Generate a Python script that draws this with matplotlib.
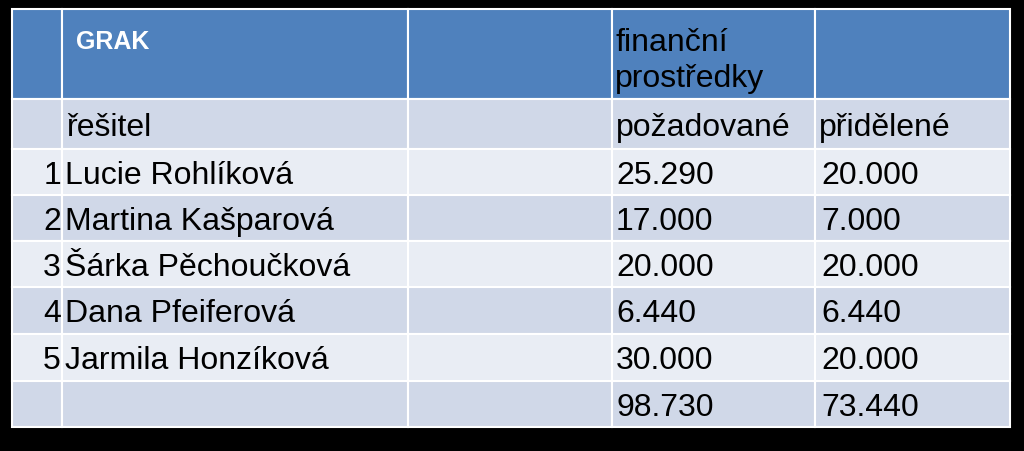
import matplotlib.pyplot as plt
from matplotlib.patches import Rectangle

numbers = ["1", "2", "3", "4", "5", ""]
names = ["Lucie Rohlíková", "Martina Kašparová", "Šárka Pěchoučková", "Dana Pfeiferová", "Jarmila Honzíková", ""]
pozadovane = ["25.290", "17.000", "20.000", "6.440", "30.000", "98.730"]
pridelene = ["20.000", "7.000", "20.000", "6.440", "20.000", "73.440"]
header = ["", "GRAK", "", "finanční\nprostředky", ""]
subheader = ["", "řešitel", "", "požadované", "přidělené"]

W, H = 1024, 452
fig = plt.figure(figsize=(W/100, H/100), dpi=100)
fig.patch.set_facecolor("black")
ax = fig.add_axes([0, 0, 1, 1])
ax.set_xlim(0, W); ax.set_ylim(H, 0); ax.axis("off")
ax.set_facecolor("black")

cols = [12, 62, 408, 612, 815, 1010]
rows = [10, 100, 150, 196, 242, 288, 335, 382, 428]
fam = "Liberation Sans"
fs = 23

def cell_bg(r, color):
    for c in range(5):
        ax.add_patch(Rectangle((cols[c], rows[r]), cols[c+1]-cols[c], rows[r+1]-rows[r],
                               facecolor=color, edgecolor="white", linewidth=1.5))

cell_bg(0, "#4F81BD")
for r in range(1, 8):
    cell_bg(r, "#D0D8E8" if r % 2 == 1 else "#E9EDF4")

ax.text(cols[1]+14, rows[0]+32, header[1], color="white", fontsize=18, fontweight="bold", family=fam, va="center")
ax.text(cols[3]+3, rows[0]+51, header[3], color="black", fontsize=fs, family=fam, va="center", linespacing=1.3)
for c, t in enumerate(subheader):
    if t:
        ax.text(cols[c]+4, (rows[1]+rows[2])/2 + 3, t, fontsize=fs, family=fam, va="center")
for i in range(6):
    y = (rows[i+2]+rows[i+3])/2 + 3
    ax.text(cols[1]-1, y, numbers[i], fontsize=fs, family=fam, va="center", ha="right")
    ax.text(cols[1]+3, y, names[i], fontsize=fs, family=fam, va="center")
    ax.text(cols[3]+4, y, pozadovane[i], fontsize=fs, family=fam, va="center")
    ax.text(cols[4]+6, y, pridelene[i], fontsize=fs, family=fam, va="center")

fig.savefig("out.png", dpi=100, facecolor="black")
